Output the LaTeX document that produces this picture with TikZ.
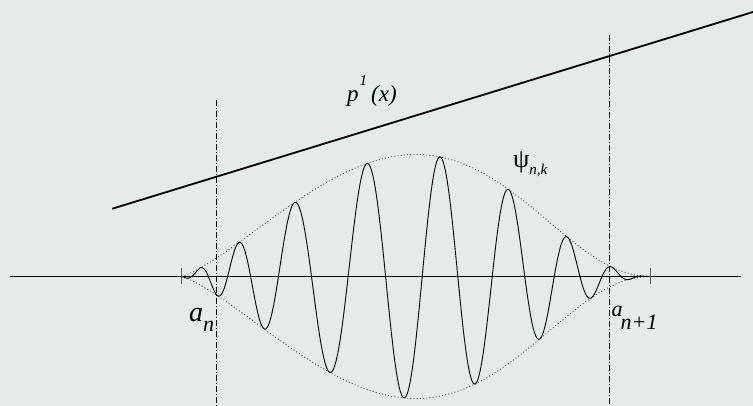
\documentclass[tikz,border=0pt]{standalone}
\usepackage{fontspec}
\setmainfont{Liberation Serif}[ItalicFont={Liberation Serif Italic}]
\newfontfamily\labelfont{Liberation Serif}[ItalicFont={Liberation Serif Italic}]
\usepackage{tikz}

\definecolor{bgpaper}{RGB}{227,236,233}
\definecolor{envgray}{RGB}{70,70,70}

\begin{document}
\begin{tikzpicture}[
    x=1pt, y=-1pt,
    declare function={amp(\t)=122*exp((1.3+0.7*\t*\t)*ln(sin(180*\t)));
                      ph(\t)=180*(44.0*\t+13.18*cos(180*\t)-1.647*sin(360*\t)-14.426-0.25*sin(180*\t)^2);},
    axisline/.style={line width=1.2pt},
    trend/.style={line width=1.8pt},
    wave/.style={line width=0.9pt},
    env/.style={envgray, line width=0.9pt, dash pattern=on 0.9pt off 2.3pt},
    guide/.style={line width=0.8pt, dash pattern=on 6pt off 2pt on 1pt off 2pt},
    tickmark/.style={line width=1pt, gray!70!black},
    lab/.style={inner sep=0pt, anchor=base west, font=\labelfont},
  ]
  \fill[bgpaper] (0,0) rectangle (753,406);
  \useasboundingbox (0,0) rectangle (753,406);

  % interval end points and guides
  \coordinate (an)    at (181,276.5);
  \coordinate (anext) at (650.7,276.5);
  \coordinate (axl)   at (10,276.5);
  \coordinate (axr)   at (741,276.5);
  \draw[axisline] (axl) -- (axr);
  \draw[tickmark] ([yshift=-8pt]an) -- ([yshift=8pt]an);
  \draw[tickmark] ([yshift=-8pt]anext) -- ([yshift=8pt]anext);
  \draw[guide] (216.7,100) -- (216.7,406);
  \draw[guide] (609.3,35) -- (609.3,406);

  % linear trend
  \coordinate (pa) at (112.3,208.7);
  \coordinate (pb) at (753,12);
  \draw[trend] (pa) -- (pb);

  % envelope and wave packet
  \draw[env] plot[domain=0.001:0.999, samples=200, variable=\t]
    ({181+469.7*\t},{276.5-amp(\t)});
  \draw[env] plot[domain=0.001:0.999, samples=200, variable=\t]
    ({181+469.7*\t},{276.5+amp(\t)});
  \draw[wave] plot[domain=0.001:0.999, samples=800, variable=\t, smooth]
    ({181+469.7*\t},{276.5-amp(\t)*cos(ph(\t))});

  % labels
  \node[lab] (plab) at (347,101.7)
    {\fontsize{23}{23}\selectfont\itshape p\kern1pt\raisebox{16pt}{\fontsize{15}{15}\selectfont 1}\kern4pt(x)};
  \node[lab] (psilab) at (513,168)
    {\fontsize{26}{26}\selectfont ψ\raisebox{-7pt}{\fontsize{15}{15}\selectfont\itshape n,k}};
  \node[lab] (anlab) at (189,322)
    {\fontsize{28}{28}\selectfont\itshape a\raisebox{-10pt}{\fontsize{22}{22}\selectfont n}};
  \node[lab] (anextlab) at (611.5,316.7)
    {\fontsize{22}{22}\selectfont\itshape a\kern-2pt\raisebox{-13.3pt}{n+1}};
\end{tikzpicture}
\end{document}
